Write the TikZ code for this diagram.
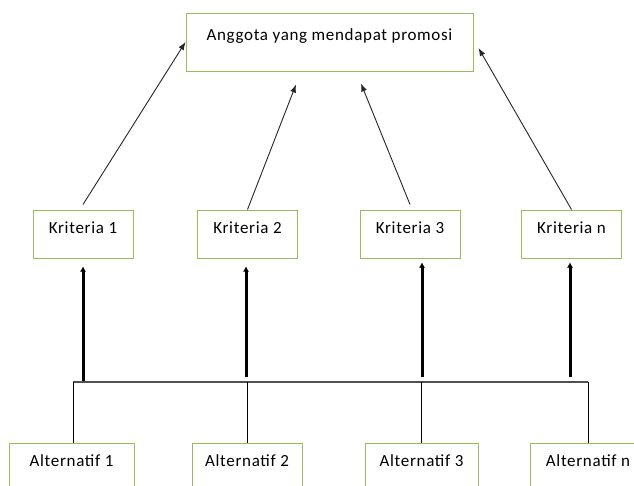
\documentclass[tikz,border=0pt]{standalone}
\usepackage{fontspec}
\setmainfont{Carlito}[LetterSpace=4]
\usetikzlibrary{arrows.meta}
\definecolor{boxgreen}{RGB}{155,187,89}
\definecolor{busgray}{RGB}{80,80,80}
\begin{document}
\begin{tikzpicture}[x=1pt,y=-1pt,
  every node/.style={font=\fontsize{17}{20}\selectfont},
  box/.style={draw=boxgreen, line width=1pt, fill=white, inner xsep=0pt, inner ysep=0pt},
  topbox/.style={box, minimum width=287pt, text height=27pt, text depth=31pt},
  kbox/.style={box, minimum width=100pt, text height=23pt, text depth=25pt},
  abox/.style={box, text height=23pt, text depth=27pt},
  arr/.style={draw=black!85, line width=0.9pt, -{Latex[length=8pt,width=6pt]}},
  thickarr/.style={draw=black, line width=3pt, -{Latex[length=5pt,width=6pt]}},
  busline/.style={draw=busgray, line width=1.5pt},
  drop/.style={draw=black, line width=0.9pt}
]
\path[use as bounding box, fill=white] (0,0) rectangle (634,485);

\node[topbox] (goal) at (329.5,42) {Anggota yang mendapat promosi};

\node[kbox] (k1) at (83,234) {Kriteria 1};
\node[kbox] (k2) at (247.5,234) {Kriteria 2};
\node[kbox] (k3) at (410,234) {Kriteria 3};
\node[kbox] (kn) at (571.5,234) {Kriteria n};

\node[abox, minimum width=125pt] (a1) at (71.5,468) {Alternatif 1};
\node[abox, minimum width=110pt] (a2) at (247,468) {Alternatif 2};
\node[abox, minimum width=113pt] (a3) at (421.5,468) {Alternatif 3};
\node[abox, minimum width=116pt] (an) at (588,468) {Alternatif n};

% arrows from criteria to goal
\draw[arr] ([yshift=5pt]k1.north) -- (goal.west);
\draw[arr] (k2.north) -- ([xshift=-33.5pt,yshift=-13pt]goal.south);
\draw[arr] ([yshift=5pt]k3.north) -- ([xshift=31.5pt,yshift=-12pt]goal.south);
\draw[arr] (kn.north) -- ([xshift=5pt,yshift=-6pt]goal.east);

% bus
\coordinate (busL) at (73,382);
\coordinate (busR) at (588,382);
\coordinate (t1) at (83,382);
\coordinate (t2) at (246,377);
\coordinate (t3) at (422,377);
\coordinate (t4) at (570,377);

\draw[thickarr, shorten >=8pt] (t1) -- (t1 |- k1.south);
\draw[thickarr, shorten >=8pt] (t2) -- (t2 |- k2.south);
\draw[thickarr, shorten >=4pt] (t3) -- (t3 |- k3.south);
\draw[thickarr, shorten >=4pt] (t4) -- (t4 |- kn.south);

\draw[busline] (busL) -- (busR);

\draw[drop] (busL) -- (busL |- a1.north);
\draw[drop] (a2.north |- busL) -- (a2.north);
\draw[drop] (a3.north |- busL) -- (a3.north);
\draw[drop] (busR) -- (an.north);
\end{tikzpicture}
\end{document}
